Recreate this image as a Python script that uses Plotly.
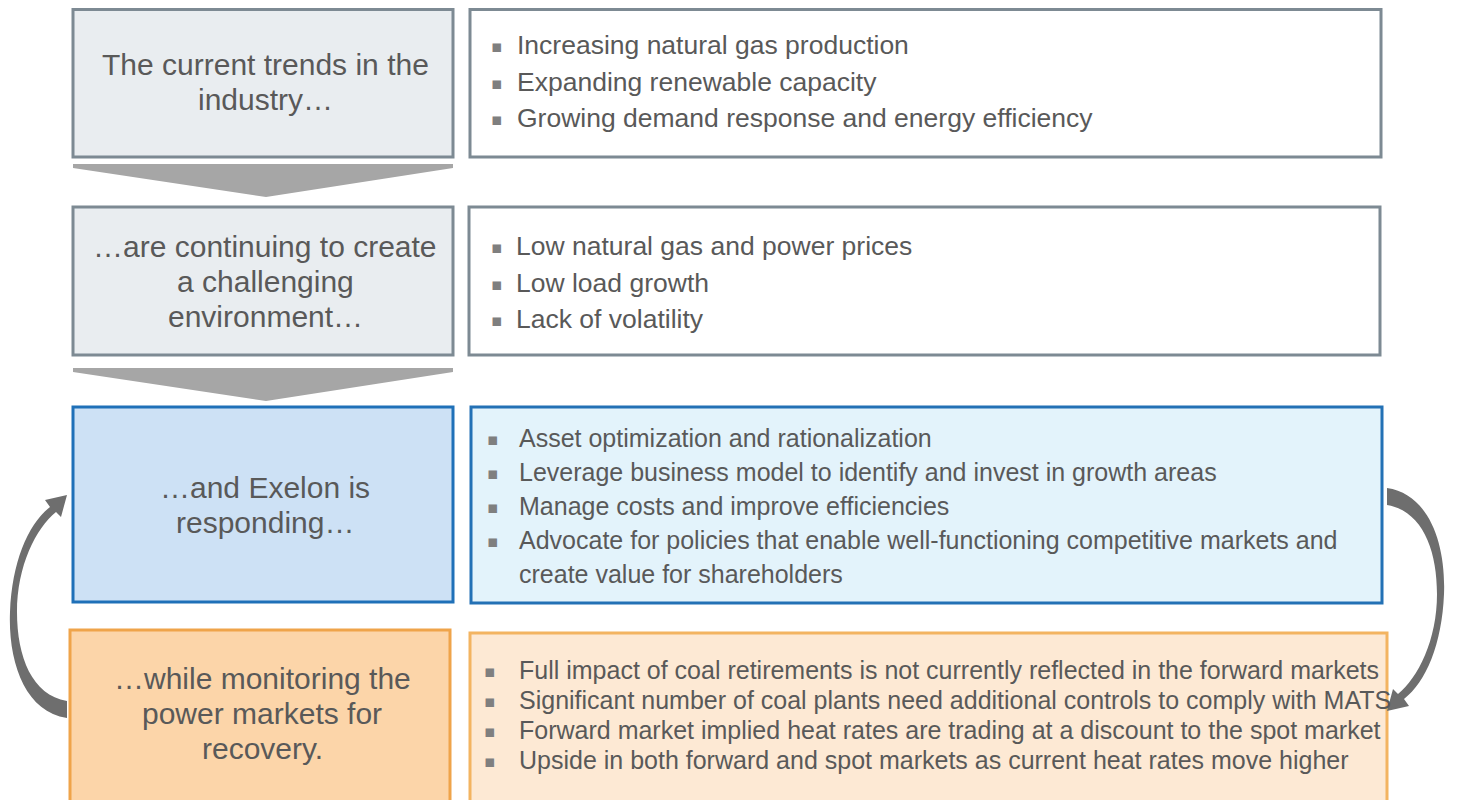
import plotly.graph_objects as go

# stage labels (left column) and their bullet points (right column)
stage_labels = [
    ["The current trends in the", "industry…"],
    ["…are continuing to create", "a challenging", "environment…"],
    ["…and Exelon is", "responding…"],
    ["…while monitoring the", "power markets for", "recovery."],
]
stage_points = [
    ["Increasing natural gas production",
     "Expanding renewable capacity",
     "Growing demand response and energy efficiency"],
    ["Low natural gas and power prices",
     "Low load growth",
     "Lack of volatility"],
    ["Asset optimization and rationalization",
     "Leverage business model to identify and invest in growth areas",
     "Manage costs and improve efficiencies",
     "Advocate for policies that enable well-functioning competitive markets and<br>create value for shareholders"],
    ["Full impact of coal retirements is not currently reflected in the forward markets",
     "Significant number of coal plants need additional controls to comply with MATS",
     "Forward market implied heat rates are trading at a discount to the spot market",
     "Upside in both forward and spot markets as current heat rates move higher"],
]

# geometry (pixels, y downwards)
left_boxes = [(73, 9.5, 453, 157), (73, 207, 453, 355), (73, 407, 453, 602), (70, 630, 450, 810)]
right_boxes = [(470, 9.5, 1381, 157), (469, 207, 1380, 355), (471, 407, 1382, 603), (470, 633, 1387, 810)]
left_centers = [82, 281, 504.5, 713.5]
left_fill = ["#e9edf0", "#e9edf0", "#cde1f5", "#fcd5a9"]
left_line = ["#7d8a93", "#7d8a93", "#1f70b8", "#efa44a"]
right_fill = ["#ffffff", "#ffffff", "#e3f3fb", "#fde9d4"]
right_line = ["#7d8a93", "#7d8a93", "#2371b5", "#f3b461"]
left_font = 30
left_step = 35
right_font = [26.5, 26.5, 25, 25]
first_line = [45, 246, 438, 670]
line_step = [36.5, 36.5, 34, 30]
bullet_x = [497, 497, 493, 490]
text_x = [515, 514, 517, 517]

FONT = "Liberation Sans, Arial, sans-serif"
TEXT = "#595959"

fig = go.Figure()
shapes = []
annotations = []

for i in range(4):
    x0, y0, x1, y1 = left_boxes[i]
    shapes.append(dict(type="rect", x0=x0, y0=y0, x1=x1, y1=y1,
                       fillcolor=left_fill[i], line=dict(color=left_line[i], width=3)))
    n = len(stage_labels[i])
    for j, line in enumerate(stage_labels[i]):
        annotations.append(dict(x=(x0 + x1) / 2 + 2, y=left_centers[i] + (j - (n - 1) / 2) * left_step,
                                text=line, showarrow=False, xanchor="center", yanchor="middle",
                                font=dict(family=FONT, size=left_font, color=TEXT)))
    x0, y0, x1, y1 = right_boxes[i]
    shapes.append(dict(type="rect", x0=x0, y0=y0, x1=x1, y1=y1,
                       fillcolor=right_fill[i], line=dict(color=right_line[i], width=3)))
    k = 0
    for item in stage_points[i]:
        for j, line in enumerate(item.split("<br>")):
            y = first_line[i] + k * line_step[i]
            if j == 0:
                annotations.append(dict(x=bullet_x[i], y=y + 1, text="▪", showarrow=False,
                                        xanchor="center", yanchor="middle",
                                        font=dict(family="DejaVu Sans", size=17,
                                                  color="#7f7f7f")))
            annotations.append(dict(x=text_x[i], y=y, text=line, showarrow=False,
                                    xanchor="left", yanchor="middle",
                                    font=dict(family=FONT, size=right_font[i], color=TEXT)))
            k += 1

# chevrons between the first three stages
for top in [164, 368]:
    shapes.append(dict(type="path",
                       path=f"M 73,{top} L 453,{top} L 453,{top + 4} L 266,{top + 33} L 73,{top + 4} Z",
                       fillcolor="#a6a6a6", line=dict(width=0)))

# curved arrows: left one goes up, right one is its point reflection
left_arrow = [("M", 67, 718), ("C", 25, 712), ("", 8, 662), ("", 10, 612),
              ("C", 12, 562), ("", 28, 524), ("", 50, 507),
              ("L", 45, 500), ("L", 67, 495), ("L", 61, 517), ("L", 56, 512),
              ("C", 36, 528), ("", 17, 566), ("", 17, 612),
              ("C", 17, 657), ("", 32, 695), ("", 67, 701)]


def to_path(pts, flip=False):
    out = []
    for cmd, x, y in pts:
        if flip:
            x, y = 1454 - x, 1206 - y
        out.append(f"{cmd} {x},{y}" if cmd else f"{x},{y}")
    return " ".join(out) + " Z"


for flip in [False, True]:
    shapes.append(dict(type="path", path=to_path(left_arrow, flip),
                       fillcolor="#6e6e6e", line=dict(width=0)))

# the page body has an 8px margin, so the plot starts at (8, 8)
fig.update_layout(
    width=1449, height=792,
    margin=dict(l=0, r=0, t=0, b=0),
    paper_bgcolor="white", plot_bgcolor="white",
    shapes=shapes, annotations=annotations,
    xaxis=dict(range=[8, 1457], visible=False, fixedrange=True),
    yaxis=dict(range=[800, 8], visible=False, fixedrange=True),
    showlegend=False,
)

fig.write_html("out.html")
